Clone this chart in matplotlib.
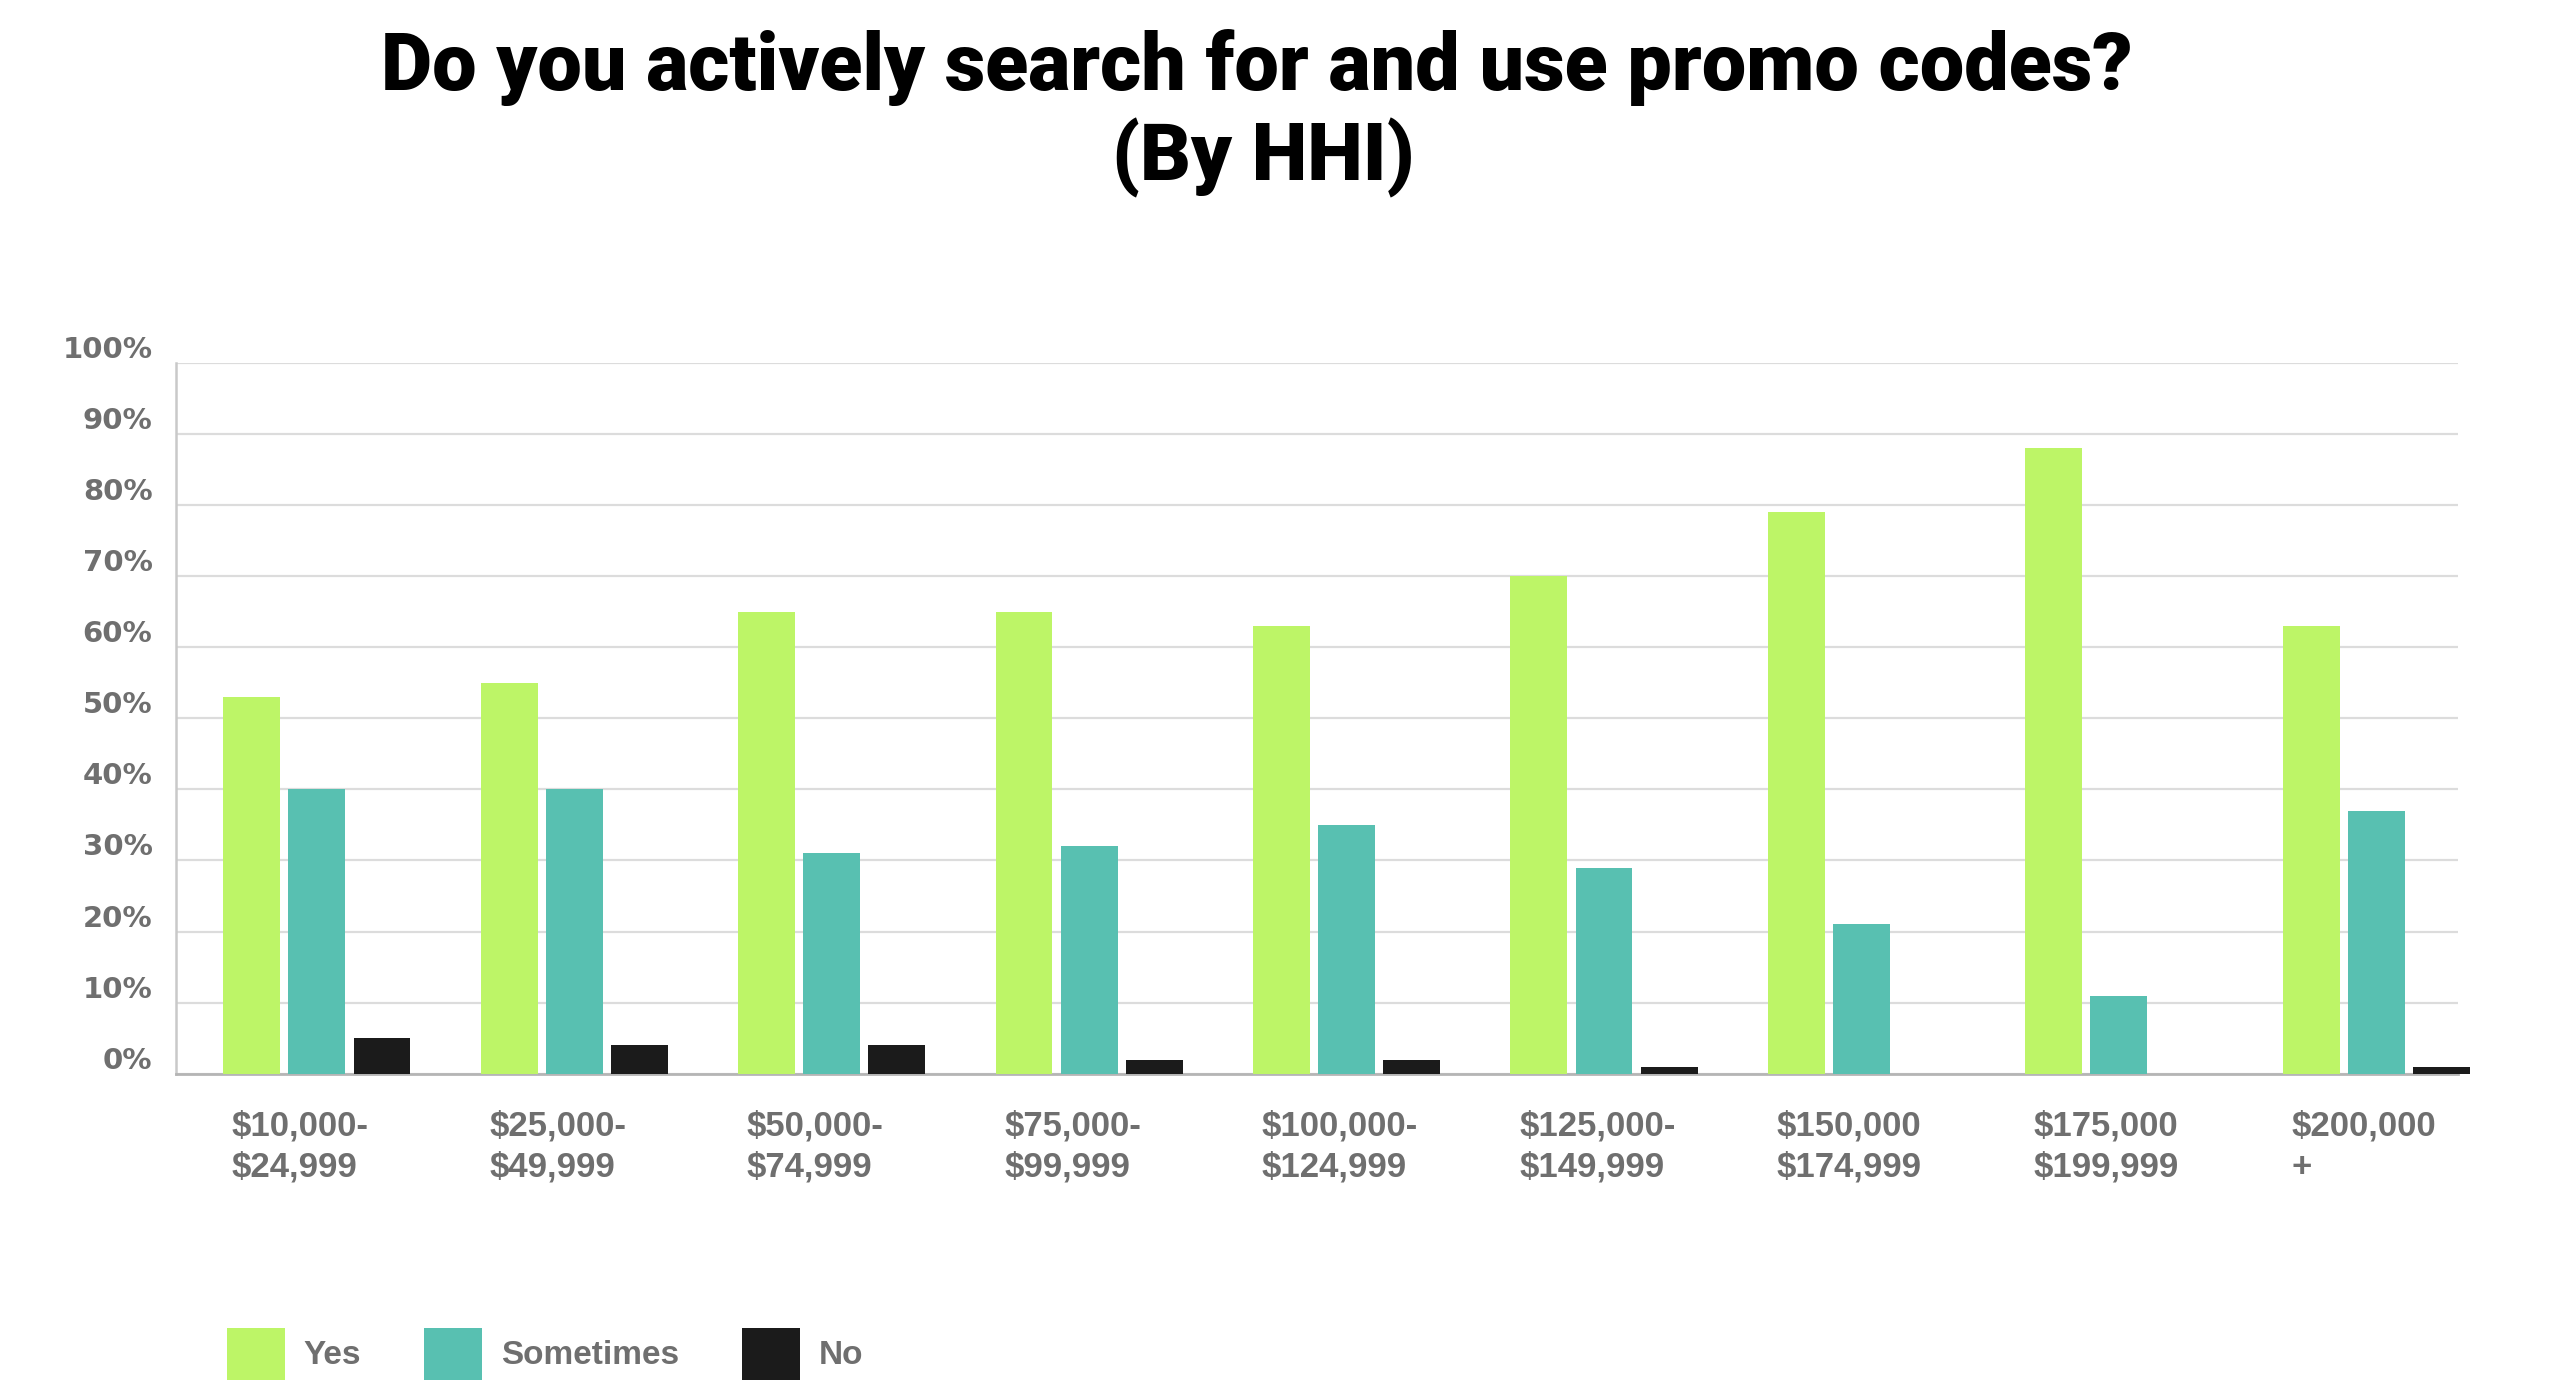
import matplotlib
matplotlib.use("Agg")
import matplotlib.pyplot as plt
from matplotlib.transforms import ScaledTranslation
from matplotlib.patches import Patch
import numpy as np

# household income brackets (x categories)
INCOME_BRACKETS = [
    "$10,000-\n$24,999", "$25,000-\n$49,999", "$50,000-\n$74,999",
    "$75,000-\n$99,999", "$100,000-\n$124,999", "$125,000-\n$149,999",
    "$150,000\n$174,999", "$175,000\n$199,999", "$200,000\n+",
]
# share of respondents, percent
YES = [53, 55, 65, 65, 63, 70, 79, 88, 63]
SOMETIMES = [40, 40, 31, 32, 35, 29, 21, 11, 37]
NO = [5, 4, 4, 2, 2, 1, 0, 0, 1]

SERIES_NAMES = ["Yes", "Sometimes", "No"]
COLORS = ["#bdf567", "#58c0b1", "#1b1b1b"]
Y_TICKS = list(range(0, 101, 10))

TITLE_FONT = "Roboto"
LABEL_FONT = "Liberation Sans"
GRAY = "#6f6f6f"

fig = plt.figure(figsize=(25.52, 14), dpi=100)
ax = fig.add_axes([0.069, 0.233, 0.894, 0.508])

x = np.arange(len(INCOME_BRACKETS))
bar_w = 0.221
step = 0.253
for i, (vals, name, col) in enumerate(zip([YES, SOMETIMES, NO], SERIES_NAMES, COLORS)):
    ax.bar(x + (i - 1) * step, vals, width=bar_w, color=col, label=name,
           clip_on=False, zorder=3)

ax.set_xlim(-0.547, 8.316)
ax.set_ylim(0, 100)

# y axis
ax.set_yticks(Y_TICKS)
ax.set_yticklabels([f"{v}%" for v in Y_TICKS], fontsize=21, fontweight="bold",
                   color=GRAY, family="DejaVu Sans")
ax.tick_params(axis="y", length=0, pad=17)
for lbl in ax.get_yticklabels():
    lbl.set_transform(lbl.get_transform() + ScaledTranslation(0, 0.16, fig.dpi_scale_trans))

# x axis labels, left aligned under each group
ax.set_xticks(x - 0.33)
ax.set_xticklabels(INCOME_BRACKETS, fontsize=25, fontweight="bold", color=GRAY,
                   family=LABEL_FONT, ha="left", linespacing=1.3)
ax.tick_params(axis="x", length=0, pad=26)

ax.grid(axis="y", color="#dcdcdc", linewidth=1.6, zorder=0)
ax.set_axisbelow(True)
for side in ["top", "right"]:
    ax.spines[side].set_visible(False)
ax.spines["left"].set_color("#c9c9c9")
ax.spines["left"].set_linewidth(1.8)
ax.spines["bottom"].set_color("#b5b5b5")
ax.spines["bottom"].set_linewidth(2)

# title
fig.text(0.4925, 1 - 68 / 1400, "Do you actively search for and use promo codes?",
         ha="center", va="center", fontsize=57, fontweight="black", family=TITLE_FONT)
fig.text(0.495, 1 - 158 / 1400, "(By HHI)",
         ha="center", va="center", fontsize=57, fontweight="black", family=TITLE_FONT)

# legend
handles = [Patch(facecolor=c, edgecolor="none", label=n) for c, n in zip(COLORS, SERIES_NAMES)]
leg = fig.legend(handles=handles, loc="center left", bbox_to_anchor=(0.077, 0.033),
                 ncol=3, frameon=False, handlelength=1.75, handleheight=2.0,
                 handletextpad=0.55, columnspacing=1.9,
                 prop={"family": LABEL_FONT, "weight": "bold", "size": 24})
for t in leg.get_texts():
    t.set_color(GRAY)

fig.savefig("out.png", dpi=100, facecolor="white")
